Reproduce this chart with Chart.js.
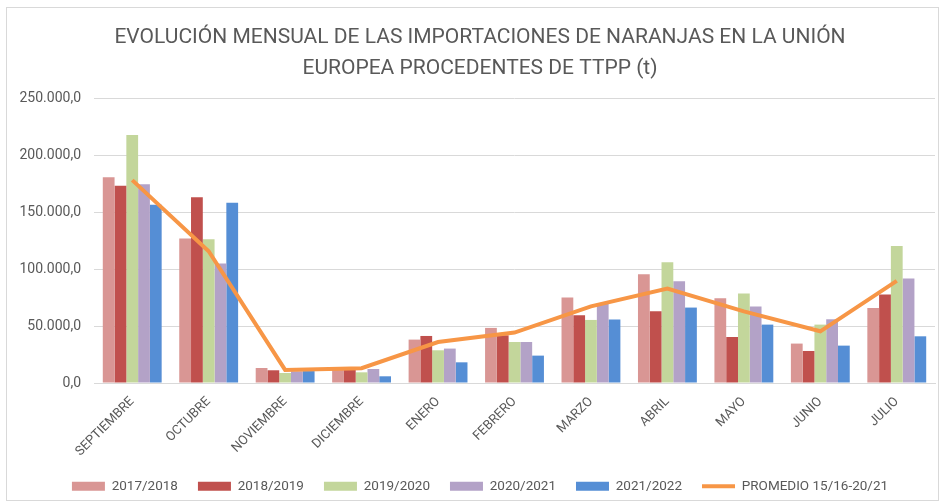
<!DOCTYPE html>
<html>
<head>
<meta charset="utf-8">
<script src="https://cdn.jsdelivr.net/npm/chart.js@4.4.1/dist/chart.umd.min.js"></script>
<style>
  body { margin: 0; background: #fff; }
  #frame { position: absolute; left: 6px; top: 7px; width: 931px; height: 492px; border: 1px solid #d9d9d9; }
  #wrap { position: absolute; left: 0; top: 0; width: 942px; height: 504px; }
</style>
</head>
<body>
<div id="frame"></div>
<div id="wrap"><canvas id="chart"></canvas></div>
<script>
// months of the campaign, september to july
const months = ["SEPTIEMBRE", "OCTUBRE", "NOVIEMBRE", "DICIEMBRE", "ENERO", "FEBRERO",
  "MARZO", "ABRIL", "MAYO", "JUNIO", "JULIO"];

// imports per campaign (t)
const c2017 = [181200, 127200, 13200, 11800, 38200, 48500, 75200, 95800, 74600, 34700, 66100];
const c2018 = [173600, 163600, 11200, 11800, 41400, 42000, 59600, 63200, 40500, 28200, 77900];
const c2019 = [218200, 126600, 8800, 9400, 28800, 36100, 55500, 106300, 78800, 51400, 120700];
const c2020 = [175000, 105200, 10300, 12300, 30300, 36100, 70500, 89600, 67300, 56100, 92000];
const c2021 = [156800, 158600, 10500, 5900, 18200, 24100, 55900, 66400, 51400, 32900, 41100];
const promedio = [178600, 116000, 11500, 13000, 36100, 44400, 67500, 83200, 63000, 45500, 89900];

const txt = "#595959";
const font = "Roboto, 'Liberation Sans', sans-serif";

// 250000 -> "250.000,0"
function fmt(v) {
  const s = Math.round(v).toString().replace(/\B(?=(\d{3})+(?!\d))/g, ".");
  return s + ",0";
}

function bar(label, data, color) {
  return { type: "bar", label: label, data: data, backgroundColor: color, borderWidth: 0,
    pointStyle: "rect", order: 2 };
}

new Chart(document.getElementById("chart"), {
  data: {
    labels: months,
    datasets: [
      bar("2017/2018", c2017, "#d99694"),
      bar("2018/2019", c2018, "#c0504d"),
      bar("2019/2020", c2019, "#c3d69b"),
      bar("2020/2021", c2020, "#b3a2c7"),
      bar("2021/2022", c2021, "#558ed5"),
      {
        type: "line", label: "PROMEDIO 15/16-20/21", data: promedio,
        borderColor: "#f79646", backgroundColor: "#f79646", borderWidth: 4,
        pointRadius: 0, tension: 0, pointStyle: "line", order: 1
      }
    ]
  },
  options: {
    responsive: true,
    maintainAspectRatio: false,
    animation: false,
    layout: { padding: { left: 18, right: 0, top: 14, bottom: 1 } },
    datasets: { bar: { categoryPercentage: 0.77, barPercentage: 1 } },
    scales: {
      x: {
        grid: { display: false },
        border: { color: "#d9d9d9" },
        ticks: { color: txt, font: { family: font, size: 13 }, minRotation: 45, maxRotation: 45 },
        afterFit: function (s) { s.height = 76.5; }
      },
      y: {
        min: 0, max: 250000,
        grid: { color: "#d9d9d9", drawTicks: false },
        border: { display: false },
        ticks: { stepSize: 50000, color: txt, padding: 13, font: { family: font, size: 14 }, callback: fmt },
        afterFit: function (s) { s.width = 76; }
      },
      // empty right margin so the plot ends where the reference does
      yr: {
        type: "linear", position: "right",
        grid: { display: false }, border: { display: false }, ticks: { display: false },
        afterFit: function (s) { s.width = 7; }
      }
    },
    plugins: {
      title: {
        display: true,
        text: ["EVOLUCIÓN MENSUAL DE LAS IMPORTACIONES DE NARANJAS EN LA UNIÓN",
          "EUROPEA PROCEDENTES DE TTPP (t)"],
        color: txt,
        font: { family: font, size: 21, weight: "normal", lineHeight: 1.476 },
        padding: { top: 8.5, bottom: 14.5 }
      },
      legend: {
        position: "bottom",
        labels: {
          color: txt, font: { family: font, size: 13.5 },
          usePointStyle: true, pointStyleWidth: 33, boxHeight: 9, padding: 20,
          sort: function (a, b) { return a.datasetIndex - b.datasetIndex; }
        }
      },
      tooltip: { enabled: false }
    }
  }
});
</script>
</body>
</html>
